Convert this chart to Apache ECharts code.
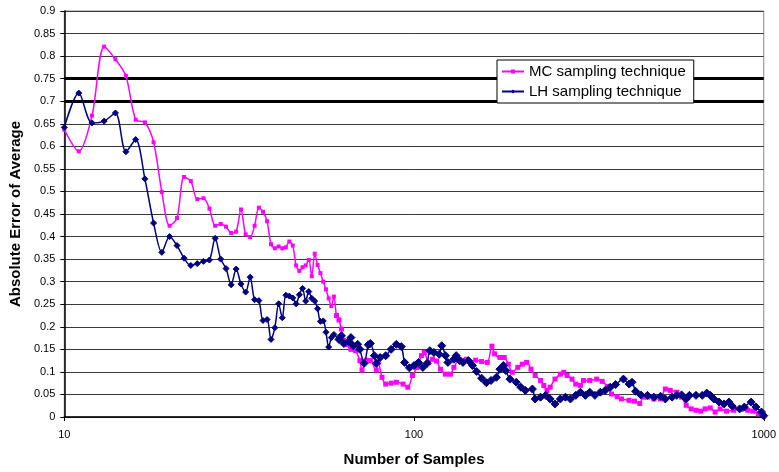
<!DOCTYPE html>
<html><head><meta charset="utf-8">
<script src="https://cdn.jsdelivr.net/npm/echarts@6/dist/echarts.min.js"></script>
<style>html,body{margin:0;padding:0;background:#fff}#c{width:779px;height:472px}</style>
</head><body><div id="c"></div>
<script>
const seriesNames = ['MC sampling technique', 'LH sampling technique'];
const xTickLabels = [10, 100, 1000];

const mcSamples = [
  10,11,12,13,14,15,16,17,18,19,
  20,21,22,23,24,25,26,27,28,29,
  30,31,32,33,34,35,36,37,38,39,
  40,41,42,43,44,45,46,47,48,49,
  50,51,52,53,54,55,56,57,58,59,
  60,61,62,63,64,66,68,70,71,73,
  75,78,79,81,83,86,89,93,96,99,
  102,105,107,110,113,116,119,123,127,130,
  135,141,145,150,156,162,167,170,176,181,
  186,191,198,204,210,216,222,230,235,240,
  245,253,262,268,274,283,290,299,305,318,
  333,345,357,367,381,392,412,427,442,452,
  465,485,507,523,540,564,582,600,620,640,
  660,680,703,726,750,783,820,862,900,930,
  965,1000
];
const mcError = [
  0.637,0.589,0.668,0.821,0.793,0.756,0.659,0.653,0.609,0.499,
  0.424,0.441,0.532,0.523,0.483,0.485,0.462,0.424,0.428,0.422,
  0.408,0.411,0.460,0.405,0.399,0.424,0.464,0.455,0.434,0.383,
  0.374,0.378,0.374,0.376,0.389,0.380,0.336,0.324,0.332,0.336,
  0.348,0.312,0.362,0.337,0.319,0.300,0.283,0.263,0.246,0.267,
  0.225,0.215,0.195,0.170,0.161,0.150,0.147,0.125,0.104,0.126,
  0.125,0.104,0.121,0.088,0.073,0.075,0.077,0.073,0.066,0.092,
  0.110,0.136,0.143,0.121,0.128,0.124,0.106,0.095,0.095,0.110,
  0.128,0.128,0.121,0.126,0.123,0.121,0.157,0.140,0.132,0.132,
  0.117,0.099,0.110,0.117,0.121,0.106,0.092,0.081,0.070,0.059,
  0.066,0.084,0.095,0.099,0.092,0.084,0.073,0.070,0.081,0.081,
  0.084,0.079,0.068,0.051,0.045,0.040,0.037,0.035,0.030,0.044,
  0.044,0.040,0.040,0.062,0.059,0.055,0.044,0.026,0.018,0.015,
  0.013,0.018,0.020,0.011,0.018,0.013,0.015,0.017,0.015,0.013,
  0.007,0.002
];

const lhSamples = [
  10,11,12,13,14,15,16,17,18,19,
  20,21,22,23,24,25,26,27,28,29,
  30,31,32,33,34,35,36,37,38,39,
  40,41,42,43,44,45,46,47,48,49,
  50,51,52,53,54,55,56,57,58,59,
  61,62,63,65,66,67,69,70,72,74,
  75,77,78,80,83,86,89,92,94,97,
  100,103,106,109,111,114,118,120,123,125,
  130,132,135,138,143,147,151,156,161,166,
  172,176,180,183,188,196,202,208,218,222,
  230,238,245,253,262,271,280,290,299,309,
  318,329,341,352,364,377,397,412,420,430,
  445,465,485,507,523,547,564,582,600,613,
  640,667,687,703,720,745,770,795,813,853,
  880,920,950,985,1000
];
const lhError = [
  0.642,0.718,0.652,0.656,0.674,0.588,0.615,0.528,0.430,0.365,
  0.400,0.380,0.352,0.336,0.340,0.345,0.348,0.396,0.350,0.329,
  0.293,0.328,0.295,0.277,0.310,0.260,0.258,0.214,0.216,0.172,
  0.198,0.251,0.220,0.270,0.268,0.264,0.251,0.271,0.285,0.257,
  0.278,0.263,0.257,0.240,0.212,0.213,0.188,0.155,0.176,0.183,
  0.172,0.180,0.163,0.167,0.176,0.158,0.161,0.150,0.119,0.160,
  0.163,0.136,0.119,0.132,0.136,0.150,0.161,0.156,0.121,0.109,
  0.114,0.121,0.110,0.119,0.147,0.143,0.139,0.158,0.136,0.121,
  0.128,0.136,0.125,0.121,0.125,0.114,0.101,0.086,0.076,0.081,
  0.088,0.106,0.114,0.103,0.084,0.077,0.066,0.059,0.062,0.040,
  0.044,0.048,0.040,0.029,0.040,0.044,0.040,0.048,0.055,0.048,
  0.055,0.048,0.055,0.059,0.066,0.072,0.084,0.073,0.077,0.057,
  0.049,0.048,0.044,0.046,0.040,0.044,0.048,0.049,0.040,0.048,
  0.048,0.048,0.053,0.048,0.040,0.033,0.029,0.033,0.024,0.018,
  0.022,0.033,0.022,0.011,0.003
];

const heavyGridLines = [0.7, 0.75];

const FONT = "'Liberation Sans', Arial, sans-serif";
const zip = (xs, ys) => xs.map((x, i) => [x, ys[i]]);

const chart = echarts.init(document.getElementById('c'), null, {renderer: 'canvas'});
chart.setOption({
  animation: false,
  backgroundColor: '#fff',
  textStyle: {fontFamily: FONT},
  grid: {left: 64, right: 11, top: 11, bottom: 52, show: true, borderColor: '#888', borderWidth: 1},
  legend: {
    orient: 'vertical',
    left: 497, top: 60,
    padding: [3, 8, 3, 4],
    itemWidth: 22, itemHeight: 5, itemGap: 3,
    backgroundColor: '#fff',
    borderColor: '#000', borderWidth: 1,
    textStyle: {fontFamily: FONT, fontSize: 15, color: '#000', lineHeight: 17},
    data: seriesNames
  },
  xAxis: {
    type: 'log', logBase: 10, min: 10, max: 1000,
    name: 'Number of Samples', nameLocation: 'middle', nameGap: 35,
    nameTextStyle: {fontFamily: FONT, fontSize: 15, fontWeight: 'bold', color: '#000'},
    axisLine: {lineStyle: {color: '#000', width: 1.5}},
    axisTick: {show: true, length: 4, lineStyle: {color: '#000'}},
    minorTick: {show: false},
    splitLine: {show: false},
    axisLabel: {
      fontFamily: FONT, fontSize: 11, color: '#000', margin: 12,
      formatter: v => (xTickLabels.indexOf(Math.round(v)) >= 0 ? String(Math.round(v)) : '')
    }
  },
  yAxis: {
    type: 'value', min: 0, max: 0.9, interval: 0.05,
    name: 'Absolute Error of Average', nameLocation: 'middle', nameGap: 39,
    nameTextStyle: {fontFamily: FONT, fontSize: 15, fontWeight: 'bold', color: '#000'},
    axisLine: {show: true, lineStyle: {color: '#000', width: 1.5}},
    axisTick: {show: true, length: 4, lineStyle: {color: '#000'}},
    axisLabel: {fontFamily: FONT, fontSize: 11, color: '#000', margin: 9,
      formatter: v => String(Math.round(v * 100) / 100)},
    splitLine: {show: true, lineStyle: {color: '#3a3a3a', width: 1}}
  },
  series: [
    {
      name: seriesNames[0], type: 'line',
      data: zip(mcSamples, mcError),
      smooth: 0.3,
      symbol: 'rect',
      symbolSize: v => (v[0] >= 60 ? 5 : 4),
      lineStyle: {color: '#ff00ff', width: 1.5},
      itemStyle: {color: '#ff00ff'},
      z: 3,
      markLine: {
        silent: true, symbol: 'none', z: 1,
        label: {show: false},
        lineStyle: {color: '#000', width: 3, type: 'solid'},
        data: heavyGridLines.map(v => ({yAxis: v}))
      }
    },
    {
      name: seriesNames[1], type: 'line',
      data: zip(lhSamples, lhError),
      smooth: 0.3,
      symbol: 'diamond',
      symbolSize: v => (v[0] >= 60 ? 8 : 6),
      lineStyle: {color: '#000080', width: 1.5},
      itemStyle: {color: '#000080', borderColor: '#000080'},
      z: 4
    }
  ]
});
</script>
</body></html>
